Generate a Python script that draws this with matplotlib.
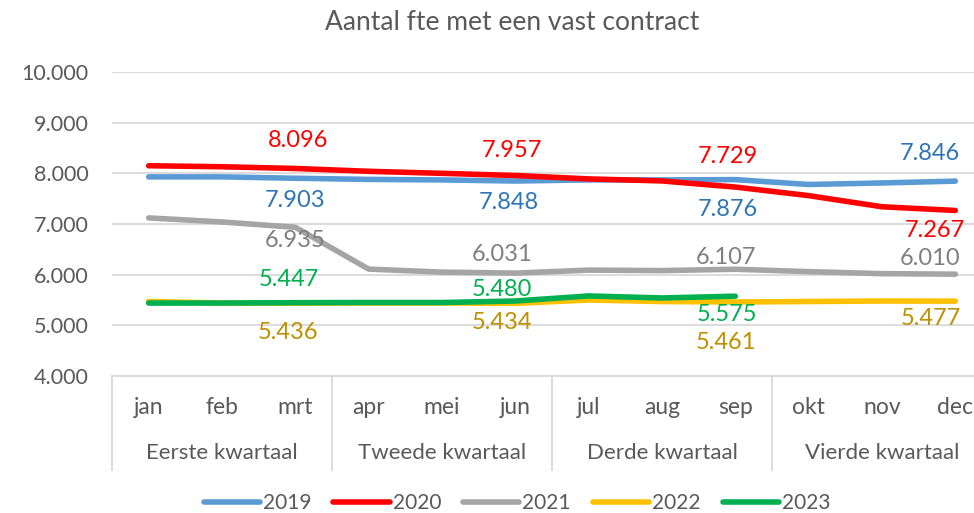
import matplotlib
matplotlib.use("Agg")
import matplotlib.pyplot as plt
import matplotlib.transforms as mtransforms

plt.rcParams['font.family'] = ['Lato', 'DejaVu Sans']

# data
months = ["jan", "feb", "mrt", "apr", "mei", "jun", "jul", "aug", "sep", "okt", "nov", "dec"]
quarters = ["Eerste kwartaal", "Tweede kwartaal", "Derde kwartaal", "Vierde kwartaal"]
years = ["2019", "2020", "2021", "2022", "2023"]

fte_2019 = [7930, 7930, 7903, 7880, 7870, 7848, 7870, 7870, 7876, 7780, 7810, 7846]
fte_2020 = [8150, 8130, 8096, 8040, 8000, 7957, 7890, 7850, 7729, 7560, 7340, 7267]
fte_2021 = [7120, 7040, 6935, 6110, 6050, 6031, 6090, 6080, 6107, 6060, 6020, 6010]
fte_2022 = [5470, 5440, 5436, 5440, 5440, 5434, 5500, 5470, 5461, 5470, 5480, 5477]
fte_2023 = [5440, 5440, 5447, 5450, 5450, 5480, 5580, 5540, 5575]

series = [fte_2019, fte_2020, fte_2021, fte_2022, fte_2023]
line_colors = ["#5B9BD5", "#FF0000", "#A5A5A5", "#FFC000", "#00B050"]
label_colors = ["#2E75B6", "#FF0000", "#7F7F7F", "#BF9000", "#00B050"]

# which points get a label, and where the label sits (pixel offsets from the point)
label_idx = [2, 5, 8, 11]
label_offsets = [
    [(0, -22), (-7, -21), (-7, -30), (-25, 28)],
    [(3, 28), (-3, 25), (-7, 31), (-20, -20)],
    [(0, -13), (-13, 19), (-9, 12), (-25, 16)],
    [(-7, -29), (-13, -19), (-9, -41), (-25, -17)],
    [(-7, 23), (-13, 12), (-8, -18)],
]

W, H = 974, 513
fig = plt.figure(figsize=(W / 100, H / 100), dpi=100)
ax = fig.add_axes([112 / W, 1 - 376 / H, 880 / W, 304 / H])

grid_c = "#D9D9D9"
text_c = "#595959"

for i, vals in enumerate(series):
    x = list(range(len(vals)))
    ax.plot(x, vals, color=line_colors[i], lw=4, solid_capstyle="round",
            solid_joinstyle="round", label=years[i], zorder=3 + i)
    for k, idx in enumerate(label_idx):
        if idx >= len(vals):
            continue
        v = vals[idx]
        dx, dy = label_offsets[i][k]
        ax.annotate(f"{v / 1000:.3f}", (idx, v), xytext=(dx, dy),
                    textcoords="offset pixels", ha="center", va="center",
                    fontsize=17, color=label_colors[i], zorder=10,
                    annotation_clip=False)

ax.set_xlim(-0.5, 11.5)
ax.set_ylim(4000, 10000)
ax.set_yticks(range(4000, 10001, 1000))
ax.set_yticklabels([f"{t // 1000}.000" for t in range(4000, 10001, 1000)])
ax.yaxis.grid(True, color=grid_c, lw=1.3)
ax.set_axisbelow(True)
for s in ["top", "right", "left"]:
    ax.spines[s].set_visible(False)
ax.spines["bottom"].set_color(grid_c)
ax.spines["bottom"].set_linewidth(1.3)
ax.tick_params(axis="y", length=0, pad=17, labelsize=15.5, labelcolor=text_c)
ax.set_xticks([])

# category axis with month and quarter groups
trans = mtransforms.blended_transform_factory(ax.transData, ax.transAxes)
for i, m in enumerate(months):
    ax.text(i, -0.105, m, transform=trans, ha="center", va="center",
            fontsize=16.5, color=text_c)
for q, name in enumerate(quarters):
    ax.text(q * 3 + 1, -0.253, name, transform=trans, ha="center", va="center",
            fontsize=16, color=text_c)
for xd in [-0.5, 2.5, 5.5, 8.5, 11.5]:
    ax.plot([xd, xd], [0, -0.31], transform=trans, color=grid_c, lw=1.3,
            clip_on=False)

fig.text(512 / W, 1 - 22 / H, "Aantal fte met een vast contract", ha="center",
         va="center", fontsize=19, color=text_c)

fig.legend(loc="center", bbox_to_anchor=(517 / W, 1 - 503 / H), ncol=5,
           frameon=False, fontsize=15, handlelength=2.7, handletextpad=0.15,
           columnspacing=1.05, labelcolor=text_c)

fig.savefig("out.png", dpi=100)
